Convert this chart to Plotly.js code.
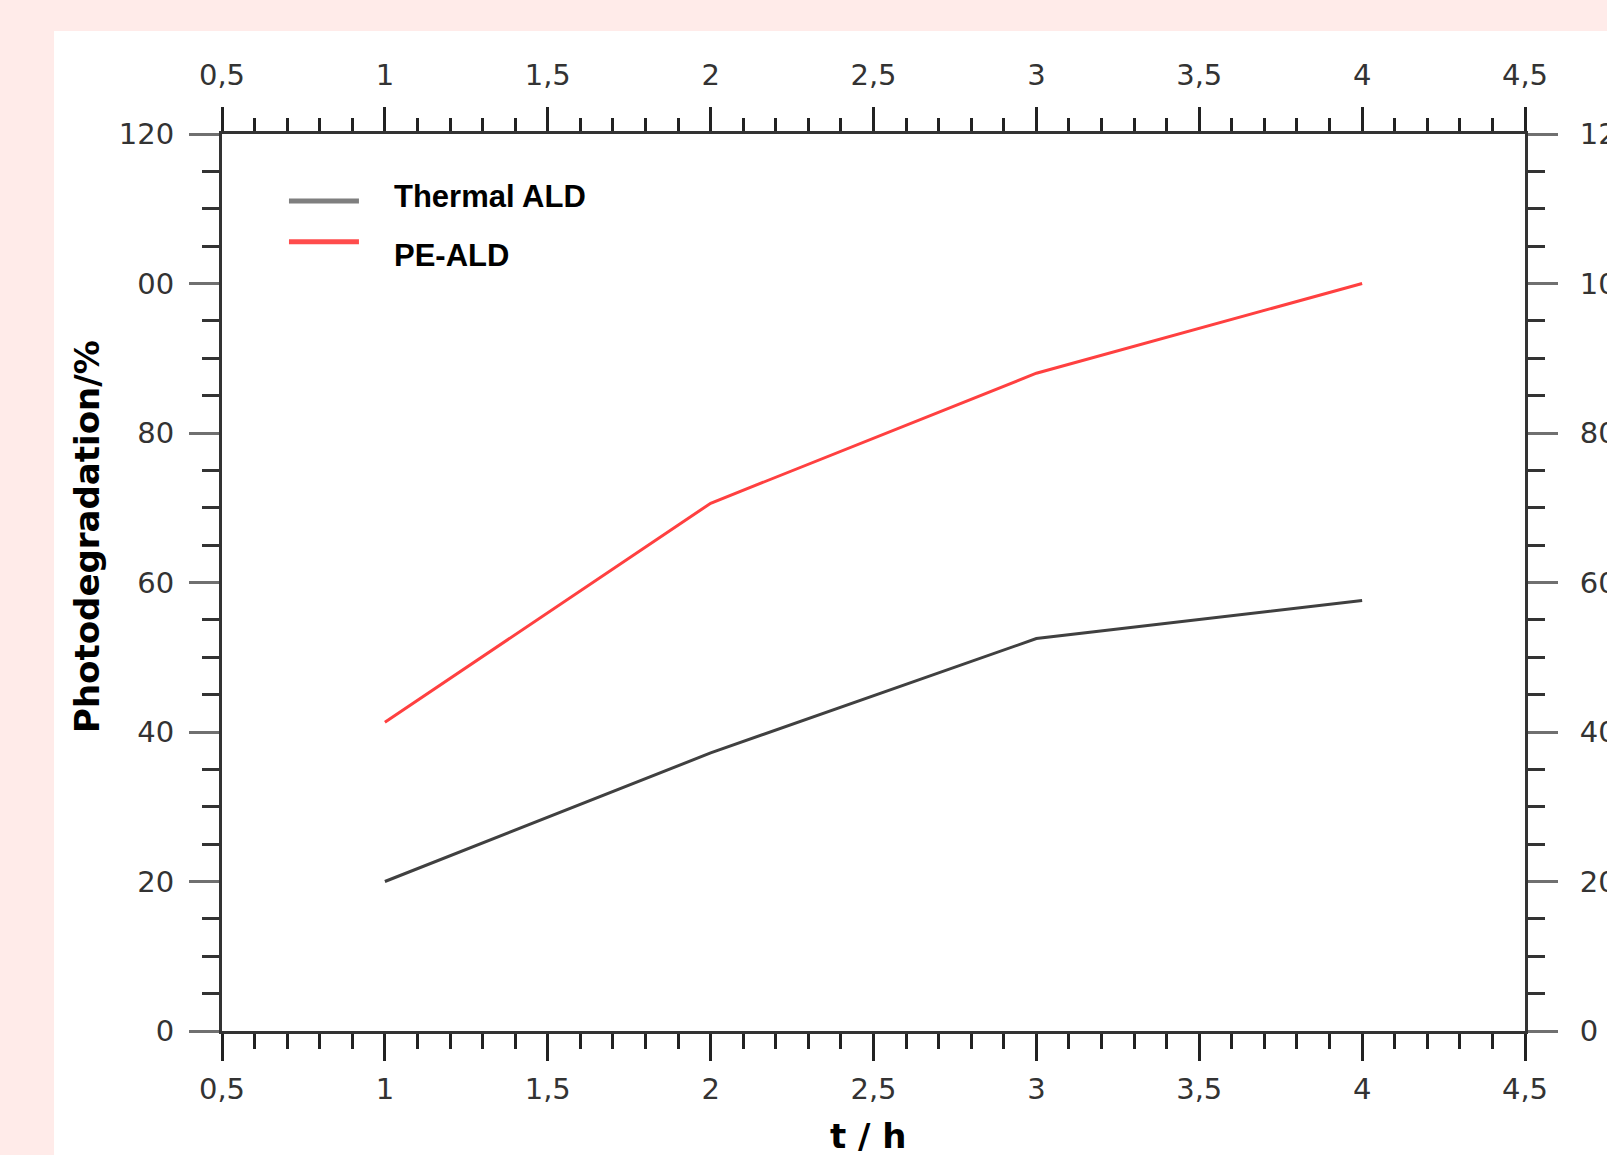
<!DOCTYPE html>
<html>
<head>
<meta charset="utf-8">
<script src="https://cdn.plot.ly/plotly-3.0.1.min.js"></script>
<style>
  html, body { margin: 0; padding: 0; overflow: hidden; background: #FFEBE9; }
  #chart { width: 1607px; height: 1155px; overflow: hidden; }
</style>
</head>
<body>
<div id="chart"></div>
<script>
// Photodegradation over irradiation time for the two coating processes
const timeH = [1, 2, 3, 4];
const thermalALD = [20.0, 37.2, 52.5, 57.6];
const peALD = [41.3, 70.6, 88.0, 100.0];

const seriesNames = ['Thermal ALD', 'PE-ALD'];
const seriesColors = ['#404040', '#FF4040'];
const legendColors = ['#7F7F7F', '#FF4C4C'];

const yTickVals = [0, 20, 40, 60, 80, 100, 120];
const yTickTextLeft = ['0', '20', '40', '60', '80', '00', '120'];
const yTickTextRight = ['0', '20', '40', '60', '80', '100', '120'];

const xTitle = 't / h';
const yTitle = 'Photodegradation/%';

const tickFont = { family: 'DejaVu Sans, Verdana, sans-serif', size: 29, color: '#333333' };
const titleFont = { family: 'DejaVu Sans, Verdana, sans-serif', size: 34, color: '#000', weight: 700 };
const legendFont = { family: 'Liberation Sans, Arial, sans-serif', size: 31, color: '#000', weight: 700 };

const traces = [
  { x: timeH, y: thermalALD, name: seriesNames[0], type: 'scatter', mode: 'lines',
    line: { color: seriesColors[0], width: 3 }, xaxis: 'x', yaxis: 'y' },
  { x: timeH, y: peALD, name: seriesNames[1], type: 'scatter', mode: 'lines',
    line: { color: seriesColors[1], width: 3 }, xaxis: 'x', yaxis: 'y' },
  // carrier for the mirrored top/right axes
  { x: timeH, y: peALD, type: 'scatter', mode: 'lines', opacity: 0, showlegend: false,
    hoverinfo: 'skip', xaxis: 'x2', yaxis: 'y2' }
];

const xCommon = {
  range: [0.5, 4.5], tick0: 0.5, dtick: 0.5,
  ticks: 'outside', tickwidth: 3, tickcolor: '#222',
  showline: true, linecolor: '#333', linewidth: 3,
  showgrid: false, zeroline: false, tickfont: tickFont, fixedrange: true
};
const yCommon = {
  range: [0, 120], tickvals: yTickVals,
  ticks: 'outside', ticklen: 30, tickwidth: 3, tickcolor: '#707070',
  minor: { ticks: 'outside', dtick: 5, ticklen: 17, tickwidth: 3, tickcolor: '#333', showgrid: false },
  showline: true, linecolor: '#333', linewidth: 3,
  showgrid: false, zeroline: false, tickfont: tickFont, fixedrange: true
};

// legend drawn inside the frame: sample strokes plus labels
const legendY = [0.9253, 0.8799];
const legendTextY = [0.9303, 0.8646];
const legendShapes = seriesNames.map((n, i) => ({
  type: 'line', xref: 'paper', yref: 'paper',
  x0: 0.0514, x1: 0.1051, y0: legendY[i], y1: legendY[i],
  line: { color: legendColors[i], width: 5 }
}));
const legendLabels = seriesNames.map((n, i) => ({
  text: n, xref: 'paper', yref: 'paper', x: 0.1305, y: legendTextY[i],
  xanchor: 'left', yanchor: 'middle', showarrow: false, font: legendFont
}));

// axis titles
const titleLabels = [
  { text: xTitle, xref: 'paper', yref: 'paper', x: 0.4965, y: -0.1171,
    xanchor: 'center', yanchor: 'middle', showarrow: false, font: titleFont },
  { text: yTitle, xref: 'paper', yref: 'paper', x: -0.1036, y: 0.5507, textangle: -90,
    xanchor: 'center', yanchor: 'middle', showarrow: false, font: titleFont }
];

const layout = {
  width: 1607, height: 1155,
  margin: { l: 222, r: 82, t: 134, b: 124, pad: 0 },
  paper_bgcolor: '#FFEBE9', plot_bgcolor: '#FFFFFF',
  separators: ', ',
  showlegend: false,
  xaxis: Object.assign({}, xCommon, {
    side: 'bottom', anchor: 'y', ticklen: 27, ticklabelstandoff: 3,
    minor: { ticks: 'outside', dtick: 0.1, ticklen: 15, tickwidth: 3, tickcolor: '#222', showgrid: false }
  }),
  xaxis2: Object.assign({}, xCommon, {
    side: 'top', overlaying: 'x', anchor: 'y2', ticklen: 24, ticklabelstandoff: 10,
    minor: { ticks: 'outside', dtick: 0.1, ticklen: 13, tickwidth: 3, tickcolor: '#222', showgrid: false }
  }),
  yaxis: Object.assign({}, yCommon, {
    side: 'left', anchor: 'x', ticktext: yTickTextLeft, ticklabelstandoff: 9
  }),
  yaxis2: Object.assign({}, yCommon, {
    side: 'right', overlaying: 'y', anchor: 'x2', ticktext: yTickTextRight, ticklabelstandoff: 16
  }),
  shapes: [
    { type: 'rect', xref: 'paper', yref: 'paper', layer: 'below',
      x0: -0.1289, x1: 1.2, y0: -0.3, y1: 1.1148,
      fillcolor: '#FFFFFF', line: { width: 0 } }
  ].concat(legendShapes),
  annotations: legendLabels.concat(titleLabels)
};

Plotly.newPlot('chart', traces, layout, { displayModeBar: false, staticPlot: true });
</script>
</body>
</html>
